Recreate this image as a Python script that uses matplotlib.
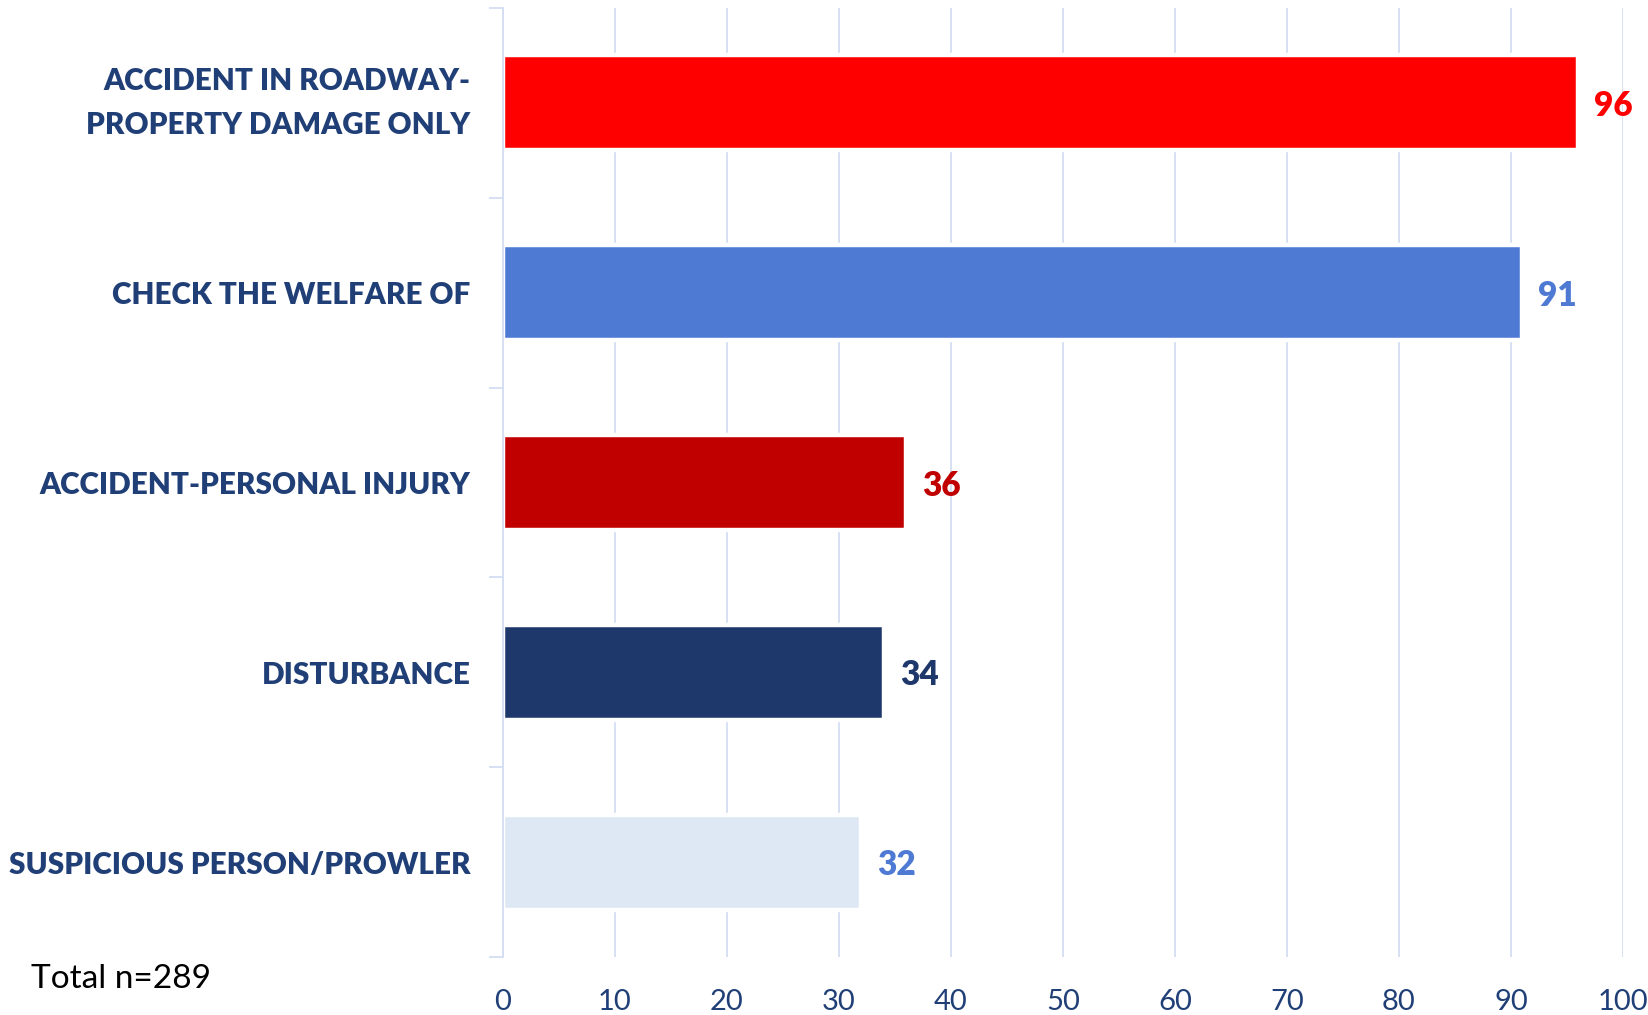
import matplotlib.pyplot as plt
from matplotlib.ticker import MultipleLocator, FixedLocator

# data
categories = ['ACCIDENT IN ROADWAY-\nPROPERTY DAMAGE ONLY', 'CHECK THE WELFARE OF',
              'ACCIDENT-PERSONAL INJURY', 'DISTURBANCE', 'SUSPICIOUS PERSON/PROWLER']
counts = [96, 91, 36, 34, 32]
bar_colors = ['#FF0000', '#4E7AD4', '#C00000', '#1E386B', '#DDE8F4']
label_colors = ['#FF0000', '#4E7AD4', '#C00000', '#1E386B', '#4E7AD4']
total_note = 'Total n=289'

navy = '#203F77'
grid_col = '#D3DEF2'

plt.rcParams['font.family'] = ['Lato', 'DejaVu Sans']

fig = plt.figure(figsize=(16.49, 10.15), dpi=100)
ax = fig.add_axes([0.305, 0.0571, 0.6792, 0.935])

ypos = list(range(len(categories)))
ax.barh(ypos, counts, height=0.5, color=bar_colors, edgecolor='white',
        linewidth=3.2, zorder=2)

for y, v, c in zip(ypos, counts, label_colors):
    ax.annotate(str(v), xy=(v, y), xytext=(16, -3), textcoords='offset pixels',
                ha='left', va='center', fontsize=24, fontweight='heavy', color=c)

ax.set_xlim(0, 100)
ax.set_ylim(4.5, -0.5)
ax.xaxis.set_major_locator(MultipleLocator(10))
ax.grid(axis='x', color=grid_col, linewidth=1.3, zorder=0)
ax.set_axisbelow(True)

ax.set_yticks(ypos)
ax.set_yticklabels(categories, fontsize=21.3, fontweight='heavy', color=navy,
                   linespacing=1.72, ha='right')
# two-line label: centre the whole block on the bar
ax.get_yticklabels()[0].set_va('center')
ax.tick_params(axis='y', which='major', length=0, pad=23.5)
ax.yaxis.set_minor_locator(FixedLocator([-0.5, 0.5, 1.5, 2.5, 3.5, 4.5]))
ax.tick_params(axis='y', which='minor', length=10, width=1.3, color=grid_col)

ax.tick_params(axis='x', length=0, pad=23, labelsize=21, labelcolor=navy)

for s in ['top', 'right', 'bottom']:
    ax.spines[s].set_visible(False)
ax.spines['left'].set_color(grid_col)
ax.spines['left'].set_linewidth(1.3)

fig.text(31 / 1649, 1 - 979 / 1015, total_note, fontsize=24, color='black',
         ha='left', va='center')

fig.savefig('out.png', dpi=100)
